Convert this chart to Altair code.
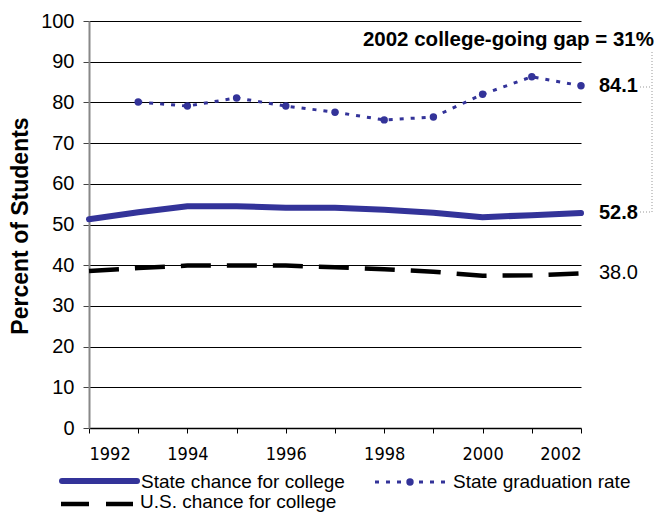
import altair as alt
import pandas as pd

# ---- data ----
years = [1992, 1993, 1994, 1995, 1996, 1997, 1998, 1999, 2000, 2001, 2002]
state_chance = [51.3, 53.0, 54.5, 54.5, 54.1, 54.1, 53.6, 52.9, 51.8, 52.3, 52.8]
grad_years = [1993, 1994, 1995, 1996, 1997, 1998, 1999, 2000, 2001, 2002]
grad_rate = [80.1, 79.1, 81.1, 79.1, 77.6, 75.7, 76.4, 82.0, 86.3, 84.1]
us_chance = [38.6, 39.3, 39.9, 39.9, 39.9, 39.5, 39.0, 38.4, 37.4, 37.5, 38.0]
y_ticks = [0, 5, 10, 15, 20, 25, 30, 35, 40, 45, 50, 55, 60, 65, 70, 75, 80, 85, 90, 95, 100]

series_names = ["State chance for college", "State graduation rate", "U.S. chance for college"]
title_text = "2002 college-going gap = 31%"
y_title = "Percent of Students"

BLUE = "#333399"
FONT = "Liberation Sans, Arial, sans-serif"
NARROW = "Liberation Sans Narrow, Arial Narrow, DejaVu Sans Condensed, Liberation Sans, Arial, sans-serif"

df_state = pd.DataFrame({"year": years, "value": state_chance})
df_grad = pd.DataFrame({"year": grad_years, "value": grad_rate})
df_us = pd.DataFrame({"year": years, "value": us_chance})

x_enc = alt.X(
    "year:Q",
    scale=alt.Scale(domain=[1992, 2002], nice=False, zero=False),
    axis=alt.Axis(
        values=years,
        format="d",
        labelExpr="datum.value % 2 == 0 ? datum.label : ''",
        title=None,
        grid=False,
        tickSize=5,
        tickColor="black",
        tickWidth=1,
        domainColor="black",
        domainWidth=1.5,
        labelFont=NARROW,
        labelFontSize=18,
        labelColor="black",
        labelPadding=12,
        labelOverlap=False,
    ),
)
y_enc = alt.Y(
    "value:Q",
    scale=alt.Scale(domain=[0, 100], nice=False),
    axis=alt.Axis(
        values=y_ticks,
        labelExpr="datum.value % 10 == 0 ? datum.label : ''",
        title=None,
        grid=True,
        gridColor="black",
        gridWidth=1,
        gridOpacity={"condition": {"test": "datum.value % 10 == 0 && datum.value > 0", "value": 1}, "value": 0},
        tickSize=6,
        tickColor="#444444",
        tickWidth=1,
        domainColor="#888888",
        domainWidth=2,
        labelFont=FONT,
        labelFontSize=20,
        labelColor="black",
        labelPadding=9,
        labelOverlap=False,
    ),
)

state_line = alt.Chart(df_state).mark_line(
    color=BLUE, strokeWidth=6, strokeCap="round", strokeJoin="round"
).encode(x=x_enc, y=y_enc)

grad_line = alt.Chart(df_grad).mark_line(
    color=BLUE, strokeWidth=3, strokeDash=[4, 7]
).encode(x="year:Q", y="value:Q")
grad_pts = alt.Chart(df_grad).mark_point(
    filled=True, color=BLUE, size=55, opacity=1
).encode(x="year:Q", y="value:Q")

us_line = alt.Chart(df_us).mark_line(
    color="black", strokeWidth=4.5, strokeDash=[30, 16]
).encode(x="year:Q", y="value:Q")

# end-of-line value labels (from the last values)
end_bold = pd.DataFrame({"year": [grad_years[-1], years[-1]], "value": [grad_rate[-1], state_chance[-1]]})
end_bold["label"] = end_bold["value"].map(lambda v: f"{v:.1f}")
end_norm = pd.DataFrame({"year": [years[-1]], "value": [us_chance[-1]]})
end_norm["label"] = end_norm["value"].map(lambda v: f"{v:.1f}")

lab_bold = alt.Chart(end_bold).mark_text(
    align="left", baseline="middle", dx=18, font=FONT, fontSize=20, fontWeight="bold", color="black"
).encode(x="year:Q", y="value:Q", text="label:N")
lab_norm = alt.Chart(end_norm).mark_text(
    align="left", baseline="middle", dx=18, font=FONT, fontSize=20, color="black"
).encode(x="year:Q", y="value:Q", text="label:N")

# gap annotation
gap_title = alt.Chart().mark_text(
    align="right", baseline="middle", font=FONT, fontSize=20.5, fontWeight="bold", color="black"
).encode(x=alt.value(565), y=alt.value(19), text=alt.value(title_text))

leader_style = dict(color="#999999", strokeWidth=1, strokeDash=[1, 2])
lead_top = alt.Chart().mark_rule(**leader_style).encode(x=alt.value(551), x2=alt.value(563), y=alt.value(66))
lead_bot = alt.Chart().mark_rule(**leader_style).encode(x=alt.value(551), x2=alt.value(563), y=alt.value(191))
lead_v = alt.Chart().mark_rule(**leader_style).encode(x=alt.value(563), y=alt.value(31), y2=alt.value(191))

# y axis title
ytitle = alt.Chart().mark_text(
    angle=270, align="center", baseline="middle", font=FONT, fontSize=23, fontWeight="bold", color="black"
).encode(x=alt.value(-68), y=alt.value(205), text=alt.value(y_title))

# manual legend
LEG_FS = 19
R1 = 460
R2 = 481
leg1_line = alt.Chart().mark_rule(color=BLUE, strokeWidth=6, strokeCap="round").encode(
    x=alt.value(-27), x2=alt.value(48), y=alt.value(R1))
leg1_text = alt.Chart().mark_text(align="left", baseline="middle", font=FONT, fontSize=LEG_FS, color="black").encode(
    x=alt.value(52), y=alt.value(R1 + 1), text=alt.value(series_names[0]))
leg2_line = alt.Chart().mark_rule(color=BLUE, strokeWidth=3, strokeDash=[4, 7]).encode(
    x=alt.value(286), x2=alt.value(361), y=alt.value(R1 + 1))
leg2_pt = alt.Chart().mark_point(filled=True, color=BLUE, size=55, opacity=1).encode(
    x=alt.value(321), y=alt.value(R1 + 1))
leg2_text = alt.Chart().mark_text(align="left", baseline="middle", font=FONT, fontSize=LEG_FS, color="black").encode(
    x=alt.value(364), y=alt.value(R1 + 1), text=alt.value(series_names[1]))
leg3_line = alt.Chart().mark_rule(color="black", strokeWidth=4.5, strokeDash=[28, 17]).encode(
    x=alt.value(-28), x2=alt.value(44), y=alt.value(R2 + 2))
leg3_text = alt.Chart().mark_text(align="left", baseline="middle", font=FONT, fontSize=LEG_FS, color="black").encode(
    x=alt.value(51), y=alt.value(R2), text=alt.value(series_names[2]))

chart = alt.layer(
    state_line, us_line, grad_line, grad_pts, lab_bold, lab_norm,
    gap_title, lead_top, lead_bot, lead_v, ytitle,
    leg1_line, leg1_text, leg2_line, leg2_pt, leg2_text, leg3_line, leg3_text,
).properties(
    width=492,
    height=407,
    autosize=alt.AutoSizeParams(type="none"),
    padding={"left": 81, "top": 13, "right": 74, "bottom": 86},
).configure_view(stroke=None)

chart.save("out.html", embed_options={"renderer": "svg", "actions": False})
